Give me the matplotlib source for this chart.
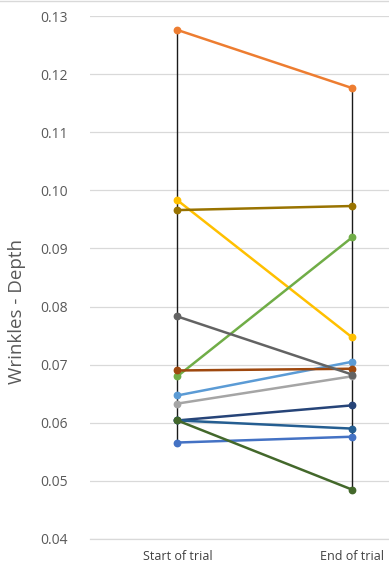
import matplotlib
matplotlib.use("Agg")
import matplotlib.pyplot as plt
from matplotlib.lines import Line2D

categories = ["Start of trial", "End of trial"]
start_vals = [0.0566, 0.1276, 0.0633, 0.0983, 0.0647, 0.0680,
              0.0604, 0.0690, 0.0783, 0.0966, 0.0604, 0.0604]
end_vals = [0.0576, 0.1176, 0.0680, 0.0747, 0.0705, 0.0919,
            0.0630, 0.0693, 0.0683, 0.0973, 0.0590, 0.0485]
colors = ["#4472C4", "#ED7D31", "#A5A5A5", "#FFC000", "#5B9BD5", "#70AD47",
          "#264478", "#9E480E", "#636363", "#997300", "#255E91", "#43682B"]
yticks = [0.04, 0.05, 0.06, 0.07, 0.08, 0.09, 0.10, 0.11, 0.12, 0.13]

W, H = 389, 567
fig = plt.figure(figsize=(W / 100, H / 100), dpi=100)
left, right, top, bottom = 90, 389, 16, 539
ax = fig.add_axes([left / W, 1 - bottom / H, (right - left) / W, (bottom - top) / H])

xs = [0, 1]
# high-low lines
for i in range(2):
    vals = [start_vals, end_vals][i]
    ax.plot([xs[i], xs[i]], [min(vals), max(vals)], color="#1a1a1a", lw=1.0, zorder=2)

for s, e, c in zip(start_vals, end_vals, colors):
    ax.plot(xs, [s, e], color=c, lw=1.8, marker="o", markersize=4.6, zorder=3,
            solid_capstyle="round")

ax.set_ylim(0.04, 0.13)
ax.set_xlim(-0.5, (389 - 177) / 175)
ax.set_yticks(yticks)
ax.set_yticklabels([f"{t:.2f}" for t in yticks])
ax.set_xticks(xs)
ax.set_xticklabels(categories)
ax.grid(axis="y", color="#D9D9D9", lw=0.9)
ax.set_axisbelow(True)
for sp in ["top", "right", "left"]:
    ax.spines[sp].set_visible(False)
ax.spines["bottom"].set_color("#D9D9D9")
ax.spines["bottom"].set_linewidth(0.9)
ax.tick_params(axis="y", length=0, pad=16, labelsize=10, labelcolor="#595959")
ax.tick_params(axis="x", length=0, pad=8, labelsize=9, labelcolor="#404040")
for lab in ax.get_yticklabels() + ax.get_xticklabels():
    lab.set_family("Open Sans")

fig.text(17.5 / W, 1 - 312 / H, "Wrinkles - Depth", rotation=90, ha="center", va="center",
         fontsize=13.5, color="#595959", family="Open Sans")
fig.add_artist(Line2D([0, 1], [1 - 0.5 / H, 1 - 0.5 / H], color="#D9D9D9", lw=1,
                      transform=fig.transFigure))

fig.savefig("out.png", dpi=100)
